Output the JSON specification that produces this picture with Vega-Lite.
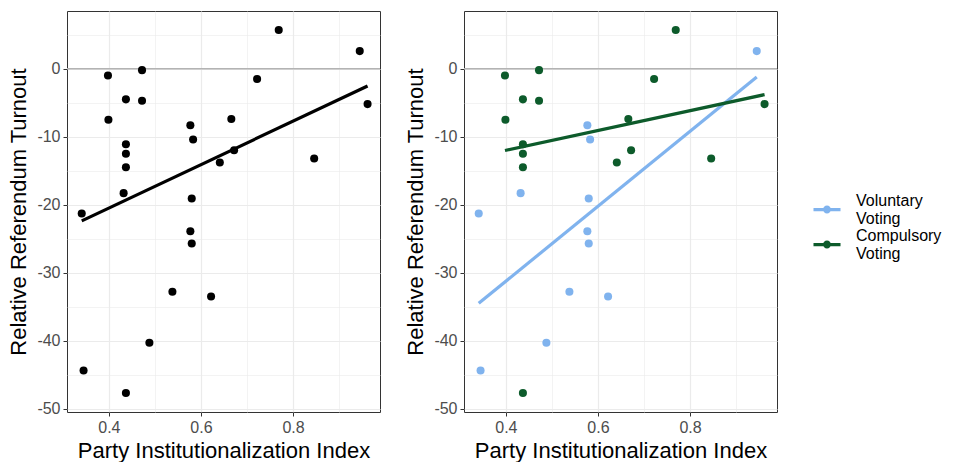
{
  "$schema": "https://vega.github.io/schema/vega-lite/v6.json",
  "background": "white",
  "padding": {"left": 7, "top": 10, "right": 5, "bottom": 0},
  "spacing": 22,
  "datasets": {
    "pts": [
      {"pii": 0.341, "turnout": -21.3, "group": "Voluntary Voting"},
      {"pii": 0.345, "turnout": -44.4, "group": "Voluntary Voting"},
      {"pii": 0.432, "turnout": -18.3, "group": "Voluntary Voting"},
      {"pii": 0.488, "turnout": -40.3, "group": "Voluntary Voting"},
      {"pii": 0.538, "turnout": -32.8, "group": "Voluntary Voting"},
      {"pii": 0.577, "turnout": -8.3, "group": "Voluntary Voting"},
      {"pii": 0.583, "turnout": -10.4, "group": "Voluntary Voting"},
      {"pii": 0.580, "turnout": -19.1, "group": "Voluntary Voting"},
      {"pii": 0.577, "turnout": -23.9, "group": "Voluntary Voting"},
      {"pii": 0.580, "turnout": -25.7, "group": "Voluntary Voting"},
      {"pii": 0.622, "turnout": -33.5, "group": "Voluntary Voting"},
      {"pii": 0.945, "turnout": 2.6, "group": "Voluntary Voting"},
      {"pii": 0.398, "turnout": -1.0, "group": "Compulsory Voting"},
      {"pii": 0.399, "turnout": -7.5, "group": "Compulsory Voting"},
      {"pii": 0.437, "turnout": -4.5, "group": "Compulsory Voting"},
      {"pii": 0.437, "turnout": -11.1, "group": "Compulsory Voting"},
      {"pii": 0.437, "turnout": -12.5, "group": "Compulsory Voting"},
      {"pii": 0.437, "turnout": -14.5, "group": "Compulsory Voting"},
      {"pii": 0.437, "turnout": -47.7, "group": "Compulsory Voting"},
      {"pii": 0.472, "turnout": -0.2, "group": "Compulsory Voting"},
      {"pii": 0.472, "turnout": -4.7, "group": "Compulsory Voting"},
      {"pii": 0.641, "turnout": -13.8, "group": "Compulsory Voting"},
      {"pii": 0.666, "turnout": -7.4, "group": "Compulsory Voting"},
      {"pii": 0.672, "turnout": -12.0, "group": "Compulsory Voting"},
      {"pii": 0.722, "turnout": -1.5, "group": "Compulsory Voting"},
      {"pii": 0.769, "turnout": 5.7, "group": "Compulsory Voting"},
      {"pii": 0.846, "turnout": -13.2, "group": "Compulsory Voting"},
      {"pii": 0.962, "turnout": -5.2, "group": "Compulsory Voting"}
    ],
    "ref": [{"zero": 0}]
  },
  "config": {
    "font": "Liberation Sans",
    "view": {"stroke": "#333333", "strokeWidth": 1},
    "axis": {
      "domain": false,
      "tickColor": "#333333",
      "tickSize": 4,
      "labelFontSize": 16,
      "labelColor": "#4D4D4D",
      "labelFont": "Liberation Sans",
      "titleFontSize": 22,
      "titleFontWeight": "normal",
      "titleColor": "#000000",
      "titleFont": "Liberation Sans",
      "labelPadding": 3
    }
  },
  "hconcat": [
    {
      "width": 313,
      "height": 401,
      "layer": [
        {
          "data": {"name": "ref"},
          "mark": {"type": "rule", "color": "#B3B3B3", "strokeWidth": 1.5},
          "encoding": {"y": {"field": "zero", "type": "quantitative"}}
        },
        {
          "data": {"name": "pts"},
          "mark": {"type": "point", "filled": true, "size": 65, "opacity": 1, "color": "#000000"},
          "encoding": {
            "x": {"field": "pii", "type": "quantitative"},
            "y": {"field": "turnout", "type": "quantitative"}
          }
        },
        {
          "data": {"name": "pts"},
          "transform": [{"regression": "turnout", "on": "pii"}],
          "mark": {"type": "line", "color": "#000000", "strokeWidth": 3.2},
          "encoding": {
            "x": {"field": "pii", "type": "quantitative"},
            "y": {"field": "turnout", "type": "quantitative"}
          }
        }
      ],
      "encoding": {
        "x": {
          "type": "quantitative",
          "scale": {"domain": [0.309, 0.989], "nice": false, "zero": false},
          "axis": {
            "title": "Party Institutionalization Index",
            "values": [0.3, 0.4, 0.5, 0.6, 0.7, 0.8, 0.9],
            "labelExpr": "round(datum.value*10) % 2 == 0 ? format(datum.value, '.1f') : ''",
            "tickOpacity": {"condition": {"test": "round(datum.value*10) % 2 == 0", "value": 1}, "value": 0},
            "gridColor": "#EBEBEB",
            "gridWidth": {"condition": {"test": "round(datum.value*10) % 2 == 0", "value": 1.2}, "value": 0.6},
            "titlePadding": 5
          }
        },
        "y": {
          "type": "quantitative",
          "scale": {"domain": [-50.5, 8.5], "nice": false, "zero": false},
          "axis": {
            "title": "Relative Referendum Turnout",
            "values": [-50, -45, -40, -35, -30, -25, -20, -15, -10, -5, 0, 5],
            "labelExpr": "datum.value % 10 == 0 ? '' + datum.value : ''",
            "tickOpacity": {"condition": {"test": "datum.value % 10 == 0", "value": 1}, "value": 0},
            "gridColor": "#EBEBEB",
            "gridWidth": {"condition": {"test": "datum.value % 10 == 0", "value": 1.2}, "value": 0.6},
            "titlePadding": 6
          }
        }
      }
    },
    {
      "width": 313,
      "height": 401,
      "layer": [
        {
          "data": {"name": "ref"},
          "mark": {"type": "rule", "color": "#B3B3B3", "strokeWidth": 1.5},
          "encoding": {"y": {"field": "zero", "type": "quantitative"}}
        },
        {
          "data": {"name": "pts"},
          "mark": {"type": "point", "filled": true, "size": 65, "opacity": 1},
          "encoding": {
            "x": {"field": "pii", "type": "quantitative"},
            "y": {"field": "turnout", "type": "quantitative"},
            "color": {
              "field": "group",
              "type": "nominal",
              "scale": {"domain": ["Voluntary Voting", "Compulsory Voting"], "range": ["#80B3EE", "#0D5B2B"]},
              "legend": {
                "title": null,
                "orient": "none",
                "legendX": 752,
                "legendY": 182,
                "labelExpr": "split(datum.label, ' ')",
                "labelFontSize": 16,
                "labelColor": "#000000",
                "labelFont": "Liberation Sans",
                "labelOffset": 21,
                "rowPadding": 1,
                "symbolType": "M-1.93,1.0 L1.93,1.0 L1.93,1.46 L-1.93,1.46 Z M0.57,1.23 A0.57,0.57 0 1 1 -0.57,1.23 A0.57,0.57 0 1 1 0.57,1.23 Z",
                "symbolSize": 196,
                "symbolStrokeWidth": 0,
                "symbolOpacity": 1,
                "encode": {"labels": {"update": {"lineHeight": {"value": 17.5}}}}
              }
            }
          }
        },
        {
          "data": {"name": "pts"},
          "transform": [{"regression": "turnout", "on": "pii", "groupby": ["group"]}],
          "mark": {"type": "line", "strokeWidth": 3.2},
          "encoding": {
            "x": {"field": "pii", "type": "quantitative"},
            "y": {"field": "turnout", "type": "quantitative"},
            "color": {"field": "group", "type": "nominal", "legend": null}
          }
        }
      ],
      "encoding": {
        "x": {
          "type": "quantitative",
          "scale": {"domain": [0.309, 0.989], "nice": false, "zero": false},
          "axis": {
            "title": "Party Institutionalization Index",
            "values": [0.3, 0.4, 0.5, 0.6, 0.7, 0.8, 0.9],
            "labelExpr": "round(datum.value*10) % 2 == 0 ? format(datum.value, '.1f') : ''",
            "tickOpacity": {"condition": {"test": "round(datum.value*10) % 2 == 0", "value": 1}, "value": 0},
            "gridColor": "#EBEBEB",
            "gridWidth": {"condition": {"test": "round(datum.value*10) % 2 == 0", "value": 1.2}, "value": 0.6},
            "titlePadding": 5
          }
        },
        "y": {
          "type": "quantitative",
          "scale": {"domain": [-50.5, 8.5], "nice": false, "zero": false},
          "axis": {
            "title": "Relative Referendum Turnout",
            "values": [-50, -45, -40, -35, -30, -25, -20, -15, -10, -5, 0, 5],
            "labelExpr": "datum.value % 10 == 0 ? '' + datum.value : ''",
            "tickOpacity": {"condition": {"test": "datum.value % 10 == 0", "value": 1}, "value": 0},
            "gridColor": "#EBEBEB",
            "gridWidth": {"condition": {"test": "datum.value % 10 == 0", "value": 1.2}, "value": 0.6},
            "titlePadding": 6
          }
        }
      }
    }
  ]
}
